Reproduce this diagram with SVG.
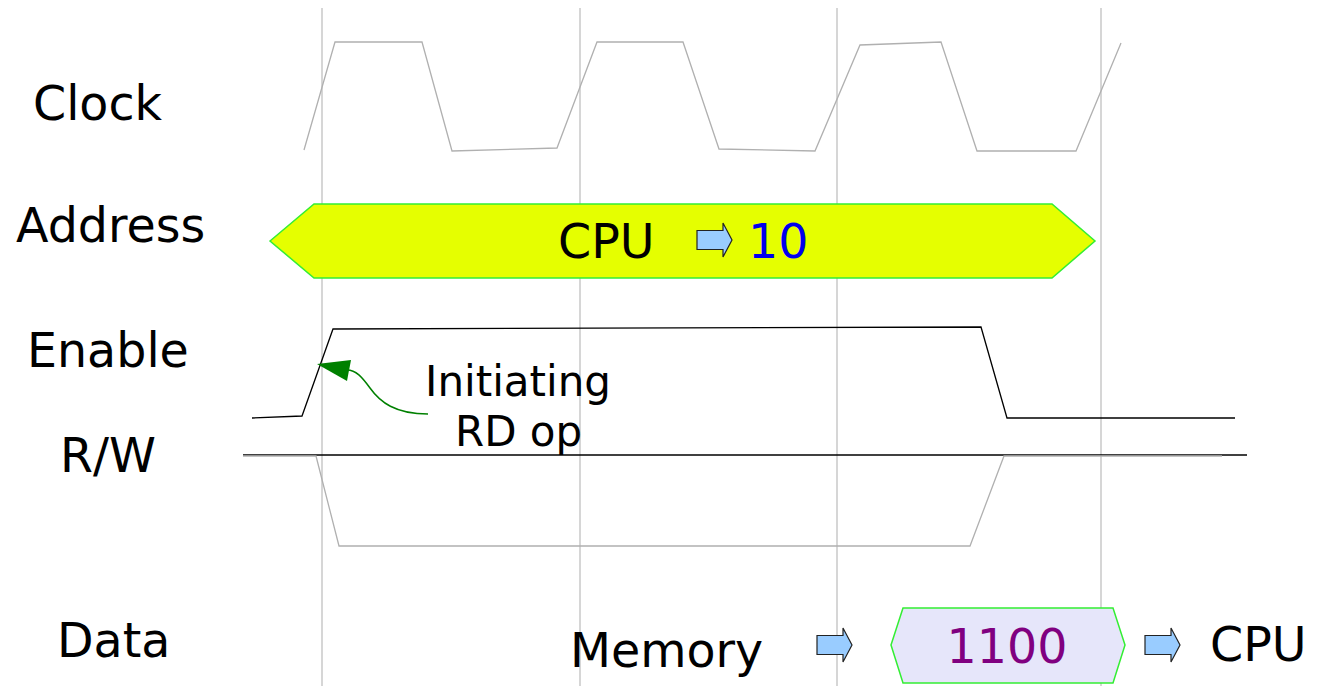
<svg xmlns="http://www.w3.org/2000/svg" xmlns:xlink="http://www.w3.org/1999/xlink" width="1321" height="686" viewBox="0 0 1321 686">
<style>
text{font-family:"DejaVu Sans","Noto Sans",sans-serif;fill:#000}
.lbl{font-size:47.5px}
.grid{stroke:#c0c0c0;stroke-width:1.3;fill:none}
.gray{stroke:#b0b0b0;stroke-width:1.3;fill:none}
.blk{stroke:#000;stroke-width:1.3;fill:none}
.bus{stroke:#33ee33;stroke-width:1.5}
.arr{fill:#99ccff;stroke:#222;stroke-width:1.2}
</style>
<defs>
<path id="blk" d="M0,-9.5 H26 V-17 L35,0 L26,17 V9.5 H0 Z"/>
</defs>
<rect width="1321" height="686" fill="#fff"/>
<g id="grid">
<line class="grid" x1="322" y1="8" x2="322" y2="686"/>
<line class="grid" x1="580" y1="8" x2="580" y2="686"/>
<line class="grid" x1="837" y1="8" x2="837" y2="686"/>
<line class="grid" x1="1101" y1="8" x2="1101" y2="686"/>
</g>
<g id="labels">
<text class="lbl" x="33" y="120">Clock</text>
<text class="lbl" x="16" y="242">Address</text>
<text class="lbl" x="27" y="367">Enable</text>
<text class="lbl" x="60" y="472">R/W</text>
<text class="lbl" x="57" y="657">Data</text>
</g>
<g id="clock">
<polyline class="gray" points="304,150 335,42 422,42 452,151 557,148 597,42 683,42 719,149 815,151 860,45 941,42 977,151 1076,151 1121,43"/>
</g>
<g id="address">
<polygon class="bus" fill="#e5ff00" points="270,241 314,204 1052,204 1095,241 1052,278 314,278"/>
<text class="lbl" x="558" y="258">CPU</text>
<use href="#blk" class="arr" transform="translate(697,240)"/>
<text class="lbl" x="748" y="258" style="fill:#0000ee">10</text>
</g>
<g id="enable">
<polyline class="blk" points="252,418 302,416 333,329 981,327 1007,418 1235,418"/>
</g>
<g id="rw">
<line class="blk" x1="243" y1="455" x2="1247" y2="455"/>
<polyline class="gray" points="243,456 316,456 339,546 970,546 1004,456 1222,456"/>
</g>
<g id="note">
<text x="425" y="396" style="font-size:42px">Initiating</text>
<text x="455" y="446" style="font-size:42px">RD op</text>
</g>
<g id="connectors">
<path d="M428,414 C395,414 380,402 370,388 C362,377 356,370 347,370" fill="none" stroke="#008000" stroke-width="1.5"/>
<polygon points="317,364 351,360 347,381" fill="#008000"/>
</g>
<g id="data">
<text class="lbl" x="570" y="667">Memory</text>
<use href="#blk" class="arr" transform="translate(817,645)"/>
<polygon class="bus" fill="#e6e6fa" points="891,645 903,608 1113,608 1125,645 1113,683 903,683"/>
<text class="lbl" x="1007" y="663" text-anchor="middle" style="fill:#800080">1100</text>
<use href="#blk" class="arr" transform="translate(1145,645)"/>
<text class="lbl" x="1210" y="661">CPU</text>
</g>
</svg>
